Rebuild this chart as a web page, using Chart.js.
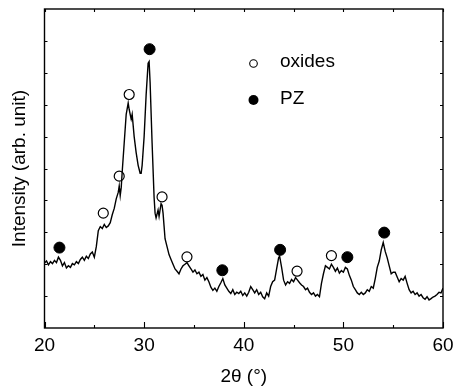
<!DOCTYPE html>
<html>
<head>
<meta charset="utf-8">
<script src="https://cdn.jsdelivr.net/npm/chart.js@4/dist/chart.umd.min.js"></script>
<style>
  html, body { margin: 0; padding: 0; background: #fff; }
  #wrap { width: 453px; height: 388px; }
</style>
</head>
<body>
<div id="wrap"><canvas id="xrd"></canvas></div>
<script>
// XRD pattern: 2θ (degrees) against intensity (arbitrary units)
const twoTheta = [
  20.0, 20.2, 20.4, 20.6, 20.8, 21.0, 21.2, 21.4, 21.6, 21.8,
  22.0, 22.2, 22.4, 22.6, 22.8, 23.0, 23.2, 23.4, 23.6, 23.8,
  24.0, 24.2, 24.4, 24.6, 24.8, 25.0, 25.2, 25.4, 25.6, 25.8,
  26.0, 26.2, 26.4, 26.6, 26.8, 27.0, 27.2, 27.4, 27.5, 27.6,
  27.7, 27.8, 28.0, 28.2, 28.4, 28.5, 28.6, 28.7, 28.8, 29.0,
  29.2, 29.4, 29.6, 29.7, 29.8, 30.0, 30.2, 30.4, 30.5, 30.6,
  30.8, 31.0, 31.1, 31.2, 31.4, 31.5, 31.7, 31.8, 31.9, 32.0,
  32.1, 32.3, 32.5, 32.7, 32.9, 33.1, 33.3, 33.5, 33.7, 33.9,
  34.1, 34.3, 34.5, 34.7, 34.9, 35.1, 35.3, 35.5, 35.7, 35.9,
  36.1, 36.3, 36.5, 36.7, 36.9, 37.1, 37.3, 37.5, 37.7, 37.9,
  38.1, 38.3, 38.5, 38.7, 38.9, 39.1, 39.3, 39.5, 39.7, 39.9,
  40.1, 40.3, 40.5, 40.7, 40.9, 41.1, 41.3, 41.5, 41.7, 41.9,
  42.1, 42.3, 42.5, 42.7, 42.9, 43.1, 43.3, 43.5, 43.6, 43.8,
  44.0, 44.2, 44.4, 44.6, 44.8, 45.0, 45.2, 45.4, 45.6, 45.8,
  46.0, 46.2, 46.4, 46.6, 46.8, 47.0, 47.2, 47.4, 47.6, 47.8,
  48.0, 48.2, 48.4, 48.6, 48.8, 49.0, 49.2, 49.4, 49.6, 49.8,
  50.0, 50.2, 50.4, 50.6, 50.8, 51.0, 51.2, 51.4, 51.6, 51.8,
  52.0, 52.2, 52.4, 52.6, 52.8, 53.0, 53.2, 53.4, 53.6, 53.8,
  54.0, 54.2, 54.4, 54.6, 54.8, 55.0, 55.2, 55.4, 55.6, 55.8,
  56.0, 56.2, 56.4, 56.6, 56.8, 57.0, 57.2, 57.4, 57.6, 57.8,
  58.0, 58.2, 58.4, 58.6, 58.8, 59.0, 59.2, 59.4, 59.6, 59.8,
  60.0
];
const intensity = [
  2.04, 2.10, 1.98, 2.08, 2.02, 2.12, 2.05, 2.22, 2.12, 1.95,
  2.05, 1.88, 1.95, 1.90, 2.02, 1.98, 2.08, 2.02, 2.15, 2.22,
  2.12, 2.25, 2.18, 2.32, 2.38, 2.22, 2.55, 3.05, 3.18, 3.12,
  3.25, 3.15, 3.20, 3.30, 3.55, 3.75, 4.05, 4.25, 4.45, 4.15,
  4.40, 4.90, 5.80, 6.70, 7.05, 6.85, 6.70, 6.55, 6.70, 6.00,
  5.50, 5.10, 4.85, 4.85, 5.10, 6.00, 7.30, 8.30, 8.35, 7.70,
  5.80, 4.10, 3.60, 3.45, 3.70, 3.50, 3.90, 3.85, 3.60, 3.20,
  2.80, 2.55, 2.30, 2.15, 2.00, 1.85, 1.78, 1.70, 1.85, 1.95,
  2.00, 2.05, 1.95, 1.85, 1.75, 1.82, 1.70, 1.75, 1.62, 1.68,
  1.50, 1.58, 1.45, 1.28, 1.18, 1.25, 1.15, 1.30, 1.42, 1.55,
  1.35, 1.25, 1.15, 1.08, 1.20, 1.05, 1.12, 1.08, 1.15, 1.02,
  1.10, 1.00, 1.12, 1.30, 1.20, 1.10, 1.20, 1.05, 1.12, 0.98,
  0.92, 1.10, 1.00, 1.30, 1.45, 1.50, 1.85, 2.20, 2.25, 1.90,
  1.50, 1.35, 1.45, 1.40, 1.52, 1.45, 1.58, 1.50, 1.42, 1.35,
  1.30, 1.20, 1.25, 1.12, 1.05, 1.10, 1.00, 1.05, 0.98, 1.40,
  1.70, 1.95, 1.90, 1.85, 2.00, 1.90, 1.78, 1.88, 1.72, 1.80,
  1.75, 1.90, 1.85, 1.65, 1.50, 1.30, 1.20, 1.10, 1.05, 1.12,
  1.05, 1.10, 1.20, 1.15, 1.30, 1.25, 1.55, 1.90, 2.10, 2.45,
  2.68, 2.40, 2.20, 1.95, 1.70, 1.75, 1.75, 1.60, 1.45, 1.55,
  1.50, 1.62, 1.40, 1.20, 1.10, 1.15, 1.05, 1.10, 1.00, 1.05,
  0.95, 0.90, 0.98, 0.88, 0.92, 0.97, 1.00, 1.05, 1.12, 1.10,
  1.25
];

// Peak assignments
const oxideAngles = [25.9, 27.5, 28.5, 31.8, 34.3, 45.35, 48.8];
const oxideMarks = [3.6, 4.76, 7.32, 4.11, 2.23, 1.78, 2.27];
const pzAngles = [21.5, 30.55, 37.85, 43.65, 50.4, 54.1];
const pzMarks = [2.52, 8.74, 1.81, 2.45, 2.22, 2.99];

const xTickValues = [20, 30, 40, 50, 60];
const legendLabels = ['oxides', 'PZ'];

const FONT = 'Arial, "Liberation Sans", Helvetica, sans-serif';

const toPoints = (xs, ys) => xs.map((x, i) => ({ x, y: ys[i] }));

// Closed frame with inward ticks on all four sides
const framePlugin = {
  id: 'frame',
  afterDraw(chart) {
    const { ctx, chartArea: a, scales: { x, y } } = chart;
    ctx.save();
    ctx.strokeStyle = '#000';
    ctx.lineWidth = 1.4;
    ctx.strokeRect(a.left, a.top, a.right - a.left, a.bottom - a.top);
    ctx.lineWidth = 1.1;
    ctx.beginPath();
    for (let v = 20; v <= 60; v += 5) {
      const px = Math.round(x.getPixelForValue(v)) + 0.5;
      const len = v % 10 === 0 ? 6 : 3;
      ctx.moveTo(px, a.bottom); ctx.lineTo(px, a.bottom - len);
      ctx.moveTo(px, a.top); ctx.lineTo(px, a.top + 3);
    }
    for (let v = 1; v < 10; v++) {
      const py = Math.round(y.getPixelForValue(v)) + 0.5;
      ctx.moveTo(a.left, py); ctx.lineTo(a.left + 3, py);
      ctx.moveTo(a.right, py); ctx.lineTo(a.right - 3, py);
    }
    ctx.stroke();
    ctx.restore();
  }
};

// Symbol key inside the plot
const keyPlugin = {
  id: 'key',
  afterDraw(chart) {
    const { ctx } = chart;
    ctx.save();
    ctx.fillStyle = '#000';
    ctx.strokeStyle = '#000';
    ctx.lineWidth = 1.1;
    ctx.beginPath();
    ctx.arc(253.5, 63.5, 3.8, 0, Math.PI * 2);
    ctx.stroke();
    ctx.beginPath();
    ctx.arc(253.5, 100, 5, 0, Math.PI * 2);
    ctx.fill();
    ctx.font = '19px ' + FONT;
    ctx.textBaseline = 'middle';
    ctx.fillText(legendLabels[0], 280, 62);
    ctx.fillText(legendLabels[1], 280, 99);
    ctx.restore();
  }
};

new Chart(document.getElementById('xrd'), {
  type: 'scatter',
  data: {
    datasets: [
      {
        data: toPoints(twoTheta, intensity),
        showLine: true,
        borderColor: '#000',
        borderWidth: 1.4,
        pointRadius: 0,
        tension: 0
      },
      {
        data: toPoints(oxideAngles, oxideMarks),
        pointRadius: 5,
        pointBackgroundColor: '#fff',
        pointBorderColor: '#000',
        pointBorderWidth: 1.2
      },
      {
        data: toPoints(pzAngles, pzMarks),
        pointRadius: 5.5,
        pointBackgroundColor: '#000',
        pointBorderColor: '#000',
        pointBorderWidth: 1
      }
    ]
  },
  options: {
    responsive: true,
    maintainAspectRatio: false,
    animation: false,
    layout: { padding: { top: 9, right: 10, left: 0, bottom: 0 } },
    plugins: { legend: { display: false }, tooltip: { enabled: false } },
    scales: {
      x: {
        type: 'linear',
        min: 20,
        max: 60,
        grid: { display: false, drawTicks: false },
        border: { display: false },
        afterBuildTicks: (s) => { s.ticks = xTickValues.map(v => ({ value: v })); },
        afterFit: (s) => {
          s.height = 60;
          // let the "60" label hang over the right edge instead of shrinking the plot
          s.paddingLeft = 0;
          s.paddingRight = 0;
        },
        ticks: { color: '#000', padding: 6, maxRotation: 0, font: { family: FONT, size: 19 } },
        title: {
          display: true,
          text: '2θ (°)',
          color: '#000',
          padding: { top: 0, bottom: 0 },
          font: { family: FONT, size: 19 }
        }
      },
      y: {
        min: 0,
        max: 10,
        grid: { display: false, drawTicks: false },
        border: { display: false },
        ticks: { display: false },
        afterFit: (s) => { s.width = 44.5; },
        title: {
          display: true,
          text: 'Intensity (arb. unit)',
          color: '#000',
          padding: { top: 8, bottom: 0 },
          font: { family: FONT, size: 19 }
        }
      }
    }
  },
  plugins: [framePlugin, keyPlugin]
});
</script>
</body>
</html>
